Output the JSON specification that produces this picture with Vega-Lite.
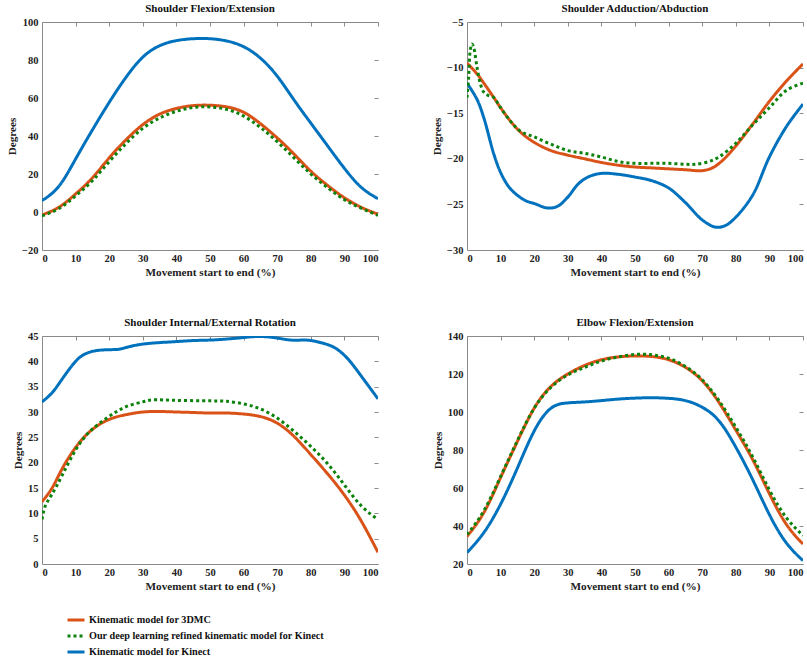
{
  "$schema": "https://vega.github.io/schema/vega-lite/v6.json",
  "background": "white",
  "padding": {"left": 6, "top": 3, "right": 0, "bottom": 0},
  "config": {
    "font": "Liberation Serif",
    "view": {"stroke": null},
    "axis": {
      "labelFont": "Liberation Serif", "labelFontSize": 10.5, "labelFontWeight": "bold", "labelColor": "#222",
      "titleFont": "Liberation Serif", "titleFontSize": 11.2, "titleFontWeight": "bold", "titleColor": "#222",
      "domainColor": "#8a8a8a", "tickColor": "#8a8a8a", "grid": false, "ticks": false,
      "labelPadding": 3, "titlePadding": 3
    },
    "axisY": {"labelPadding": 4, "titlePadding": 4},
    "title": {"font": "Liberation Serif", "fontSize": 11, "fontWeight": "bold", "color": "#111", "offset": 3},
    "legend": {
      "orient": "bottom", "direction": "vertical", "offset": -6, "padding": 24,
      "labelFont": "Liberation Serif", "labelFontSize": 10.2, "labelFontWeight": "bold", "labelColor": "#111", "labelLimit": 500,
      "symbolType": "stroke", "symbolSize": 289, "symbolStrokeWidth": 3, "rowPadding": 0, "labelOffset": 3
    }
  },
  "datasets": {
    "d": [
      {"p":1,"m":"Kinect","x":0,"y":6},{"p":1,"m":"Kinect","x":5,"y":13.5},{"p":1,"m":"Kinect","x":10,"y":27.9},{"p":1,"m":"Kinect","x":15,"y":43.2},{"p":1,"m":"Kinect","x":20,"y":57.7},{"p":1,"m":"Kinect","x":25,"y":70.9},{"p":1,"m":"Kinect","x":30,"y":81.5},{"p":1,"m":"Kinect","x":35,"y":87.5},{"p":1,"m":"Kinect","x":40,"y":90.2},{"p":1,"m":"Kinect","x":45,"y":91.2},{"p":1,"m":"Kinect","x":50,"y":91.2},{"p":1,"m":"Kinect","x":55,"y":90},{"p":1,"m":"Kinect","x":60,"y":87},{"p":1,"m":"Kinect","x":65,"y":81},{"p":1,"m":"Kinect","x":70,"y":71.5},{"p":1,"m":"Kinect","x":75,"y":59},{"p":1,"m":"Kinect","x":80,"y":46.8},{"p":1,"m":"Kinect","x":85,"y":34.8},{"p":1,"m":"Kinect","x":90,"y":23},{"p":1,"m":"Kinect","x":95,"y":13},{"p":1,"m":"Kinect","x":100,"y":7},
      {"p":1,"m":"3DMC","x":0,"y":-1.5},{"p":1,"m":"3DMC","x":5,"y":2.5},{"p":1,"m":"3DMC","x":10,"y":9.5},{"p":1,"m":"3DMC","x":15,"y":18},{"p":1,"m":"3DMC","x":20,"y":28.5},{"p":1,"m":"3DMC","x":25,"y":38},{"p":1,"m":"3DMC","x":30,"y":46},{"p":1,"m":"3DMC","x":35,"y":51.5},{"p":1,"m":"3DMC","x":40,"y":54.5},{"p":1,"m":"3DMC","x":45,"y":56},{"p":1,"m":"3DMC","x":50,"y":56.2},{"p":1,"m":"3DMC","x":55,"y":55.3},{"p":1,"m":"3DMC","x":60,"y":52.5},{"p":1,"m":"3DMC","x":65,"y":46.5},{"p":1,"m":"3DMC","x":70,"y":39},{"p":1,"m":"3DMC","x":75,"y":30.5},{"p":1,"m":"3DMC","x":80,"y":21.5},{"p":1,"m":"3DMC","x":85,"y":14},{"p":1,"m":"3DMC","x":90,"y":7.5},{"p":1,"m":"3DMC","x":95,"y":2.5},{"p":1,"m":"3DMC","x":100,"y":-1.2},
      {"p":1,"m":"Ours","x":0,"y":-2},{"p":1,"m":"Ours","x":5,"y":1.8},{"p":1,"m":"Ours","x":10,"y":8.5},{"p":1,"m":"Ours","x":15,"y":16.5},{"p":1,"m":"Ours","x":20,"y":26.5},{"p":1,"m":"Ours","x":25,"y":36},{"p":1,"m":"Ours","x":30,"y":44},{"p":1,"m":"Ours","x":35,"y":49.5},{"p":1,"m":"Ours","x":40,"y":53},{"p":1,"m":"Ours","x":45,"y":55},{"p":1,"m":"Ours","x":50,"y":55.3},{"p":1,"m":"Ours","x":55,"y":54},{"p":1,"m":"Ours","x":60,"y":50.5},{"p":1,"m":"Ours","x":65,"y":44.5},{"p":1,"m":"Ours","x":70,"y":37},{"p":1,"m":"Ours","x":75,"y":28.5},{"p":1,"m":"Ours","x":80,"y":20},{"p":1,"m":"Ours","x":85,"y":12.8},{"p":1,"m":"Ours","x":90,"y":6.5},{"p":1,"m":"Ours","x":95,"y":2},{"p":1,"m":"Ours","x":100,"y":-1.8},

      {"p":2,"m":"Kinect","x":0,"y":-11.7},{"p":2,"m":"Kinect","x":3,"y":-13.5},{"p":2,"m":"Kinect","x":5,"y":-15.5},{"p":2,"m":"Kinect","x":8,"y":-19.5},{"p":2,"m":"Kinect","x":10,"y":-21.5},{"p":2,"m":"Kinect","x":12.5,"y":-23.1},{"p":2,"m":"Kinect","x":15,"y":-24},{"p":2,"m":"Kinect","x":17.5,"y":-24.6},{"p":2,"m":"Kinect","x":20,"y":-24.9},{"p":2,"m":"Kinect","x":24,"y":-25.4},{"p":2,"m":"Kinect","x":27,"y":-25.2},{"p":2,"m":"Kinect","x":30,"y":-24.2},{"p":2,"m":"Kinect","x":33,"y":-22.8},{"p":2,"m":"Kinect","x":36,"y":-22},{"p":2,"m":"Kinect","x":40,"y":-21.6},{"p":2,"m":"Kinect","x":45,"y":-21.7},{"p":2,"m":"Kinect","x":50,"y":-22},{"p":2,"m":"Kinect","x":55,"y":-22.4},{"p":2,"m":"Kinect","x":60,"y":-23.2},{"p":2,"m":"Kinect","x":65,"y":-24.8},{"p":2,"m":"Kinect","x":70,"y":-26.7},{"p":2,"m":"Kinect","x":74,"y":-27.5},{"p":2,"m":"Kinect","x":77,"y":-27.3},{"p":2,"m":"Kinect","x":80,"y":-26.4},{"p":2,"m":"Kinect","x":85,"y":-24},{"p":2,"m":"Kinect","x":90,"y":-19.8},{"p":2,"m":"Kinect","x":95,"y":-16.5},{"p":2,"m":"Kinect","x":100,"y":-14},
      {"p":2,"m":"3DMC","x":0,"y":-9.5},{"p":2,"m":"3DMC","x":3,"y":-10.7},{"p":2,"m":"3DMC","x":5,"y":-11.7},{"p":2,"m":"3DMC","x":8,"y":-13.3},{"p":2,"m":"3DMC","x":10,"y":-14.4},{"p":2,"m":"3DMC","x":13,"y":-15.9},{"p":2,"m":"3DMC","x":16,"y":-17.1},{"p":2,"m":"3DMC","x":20,"y":-18.2},{"p":2,"m":"3DMC","x":25,"y":-19.1},{"p":2,"m":"3DMC","x":30,"y":-19.6},{"p":2,"m":"3DMC","x":35,"y":-20},{"p":2,"m":"3DMC","x":40,"y":-20.4},{"p":2,"m":"3DMC","x":45,"y":-20.7},{"p":2,"m":"3DMC","x":50,"y":-20.9},{"p":2,"m":"3DMC","x":55,"y":-21},{"p":2,"m":"3DMC","x":60,"y":-21.1},{"p":2,"m":"3DMC","x":65,"y":-21.2},{"p":2,"m":"3DMC","x":70,"y":-21.3},{"p":2,"m":"3DMC","x":73,"y":-21},{"p":2,"m":"3DMC","x":76,"y":-20.2},{"p":2,"m":"3DMC","x":80,"y":-18.6},{"p":2,"m":"3DMC","x":85,"y":-16.2},{"p":2,"m":"3DMC","x":90,"y":-13.7},{"p":2,"m":"3DMC","x":95,"y":-11.5},{"p":2,"m":"3DMC","x":100,"y":-9.6},
      {"p":2,"m":"Ours","x":0,"y":-13.3},{"p":2,"m":"Ours","x":0.5,"y":-11},{"p":2,"m":"Ours","x":1,"y":-8},{"p":2,"m":"Ours","x":1.5,"y":-7.4},{"p":2,"m":"Ours","x":2,"y":-7.8},{"p":2,"m":"Ours","x":3,"y":-10},{"p":2,"m":"Ours","x":4,"y":-11.8},{"p":2,"m":"Ours","x":5,"y":-12.7},{"p":2,"m":"Ours","x":6,"y":-13},{"p":2,"m":"Ours","x":8,"y":-13.3},{"p":2,"m":"Ours","x":10,"y":-14.4},{"p":2,"m":"Ours","x":13,"y":-15.9},{"p":2,"m":"Ours","x":16,"y":-17},{"p":2,"m":"Ours","x":20,"y":-17.6},{"p":2,"m":"Ours","x":25,"y":-18.4},{"p":2,"m":"Ours","x":30,"y":-19.1},{"p":2,"m":"Ours","x":35,"y":-19.4},{"p":2,"m":"Ours","x":40,"y":-19.8},{"p":2,"m":"Ours","x":45,"y":-20.3},{"p":2,"m":"Ours","x":50,"y":-20.5},{"p":2,"m":"Ours","x":55,"y":-20.5},{"p":2,"m":"Ours","x":60,"y":-20.5},{"p":2,"m":"Ours","x":65,"y":-20.6},{"p":2,"m":"Ours","x":68,"y":-20.6},{"p":2,"m":"Ours","x":72,"y":-20.3},{"p":2,"m":"Ours","x":75,"y":-19.8},{"p":2,"m":"Ours","x":80,"y":-18.3},{"p":2,"m":"Ours","x":85,"y":-16.3},{"p":2,"m":"Ours","x":90,"y":-14.4},{"p":2,"m":"Ours","x":95,"y":-12.5},{"p":2,"m":"Ours","x":100,"y":-11.7},

      {"p":3,"m":"Kinect","x":0,"y":32},{"p":3,"m":"Kinect","x":3,"y":33.8},{"p":3,"m":"Kinect","x":6,"y":36.5},{"p":3,"m":"Kinect","x":10,"y":40},{"p":3,"m":"Kinect","x":13,"y":41.5},{"p":3,"m":"Kinect","x":16,"y":42.1},{"p":3,"m":"Kinect","x":20,"y":42.3},{"p":3,"m":"Kinect","x":23,"y":42.4},{"p":3,"m":"Kinect","x":26,"y":42.9},{"p":3,"m":"Kinect","x":30,"y":43.4},{"p":3,"m":"Kinect","x":35,"y":43.7},{"p":3,"m":"Kinect","x":40,"y":43.9},{"p":3,"m":"Kinect","x":45,"y":44.1},{"p":3,"m":"Kinect","x":50,"y":44.2},{"p":3,"m":"Kinect","x":55,"y":44.4},{"p":3,"m":"Kinect","x":60,"y":44.7},{"p":3,"m":"Kinect","x":65,"y":44.9},{"p":3,"m":"Kinect","x":70,"y":44.6},{"p":3,"m":"Kinect","x":74,"y":44.2},{"p":3,"m":"Kinect","x":78,"y":44.2},{"p":3,"m":"Kinect","x":81,"y":44},{"p":3,"m":"Kinect","x":85,"y":43.3},{"p":3,"m":"Kinect","x":88,"y":42.3},{"p":3,"m":"Kinect","x":91,"y":40.5},{"p":3,"m":"Kinect","x":94,"y":38},{"p":3,"m":"Kinect","x":97,"y":35.3},{"p":3,"m":"Kinect","x":100,"y":32.6},
      {"p":3,"m":"3DMC","x":0,"y":12.3},{"p":3,"m":"3DMC","x":3,"y":15},{"p":3,"m":"3DMC","x":6,"y":18.8},{"p":3,"m":"3DMC","x":10,"y":23},{"p":3,"m":"3DMC","x":14,"y":26},{"p":3,"m":"3DMC","x":18,"y":27.9},{"p":3,"m":"3DMC","x":22,"y":29},{"p":3,"m":"3DMC","x":26,"y":29.6},{"p":3,"m":"3DMC","x":30,"y":30},{"p":3,"m":"3DMC","x":35,"y":30.1},{"p":3,"m":"3DMC","x":40,"y":30},{"p":3,"m":"3DMC","x":45,"y":29.9},{"p":3,"m":"3DMC","x":50,"y":29.8},{"p":3,"m":"3DMC","x":55,"y":29.8},{"p":3,"m":"3DMC","x":60,"y":29.6},{"p":3,"m":"3DMC","x":65,"y":29.1},{"p":3,"m":"3DMC","x":70,"y":27.8},{"p":3,"m":"3DMC","x":75,"y":25.2},{"p":3,"m":"3DMC","x":80,"y":21.6},{"p":3,"m":"3DMC","x":85,"y":17.8},{"p":3,"m":"3DMC","x":90,"y":13.6},{"p":3,"m":"3DMC","x":95,"y":8.5},{"p":3,"m":"3DMC","x":100,"y":2.3},
      {"p":3,"m":"Ours","x":0,"y":8.8},{"p":3,"m":"Ours","x":1,"y":11.5},{"p":3,"m":"Ours","x":3,"y":13.8},{"p":3,"m":"Ours","x":6,"y":17.5},{"p":3,"m":"Ours","x":10,"y":22.5},{"p":3,"m":"Ours","x":14,"y":26},{"p":3,"m":"Ours","x":18,"y":28.2},{"p":3,"m":"Ours","x":22,"y":30},{"p":3,"m":"Ours","x":26,"y":31.3},{"p":3,"m":"Ours","x":30,"y":32},{"p":3,"m":"Ours","x":33,"y":32.4},{"p":3,"m":"Ours","x":40,"y":32.3},{"p":3,"m":"Ours","x":50,"y":32.2},{"p":3,"m":"Ours","x":55,"y":32.1},{"p":3,"m":"Ours","x":60,"y":31.6},{"p":3,"m":"Ours","x":65,"y":30.6},{"p":3,"m":"Ours","x":70,"y":28.8},{"p":3,"m":"Ours","x":75,"y":26.2},{"p":3,"m":"Ours","x":80,"y":23.2},{"p":3,"m":"Ours","x":85,"y":19.8},{"p":3,"m":"Ours","x":90,"y":15.6},{"p":3,"m":"Ours","x":95,"y":11.5},{"p":3,"m":"Ours","x":100,"y":8.8},

      {"p":4,"m":"Kinect","x":0,"y":26},{"p":4,"m":"Kinect","x":5,"y":36.5},{"p":4,"m":"Kinect","x":10,"y":51.5},{"p":4,"m":"Kinect","x":15,"y":70.5},{"p":4,"m":"Kinect","x":20,"y":90},{"p":4,"m":"Kinect","x":25,"y":102},{"p":4,"m":"Kinect","x":30,"y":104.8},{"p":4,"m":"Kinect","x":35,"y":105.3},{"p":4,"m":"Kinect","x":40,"y":106},{"p":4,"m":"Kinect","x":45,"y":106.8},{"p":4,"m":"Kinect","x":50,"y":107.3},{"p":4,"m":"Kinect","x":55,"y":107.5},{"p":4,"m":"Kinect","x":60,"y":107.2},{"p":4,"m":"Kinect","x":65,"y":106},{"p":4,"m":"Kinect","x":70,"y":102.5},{"p":4,"m":"Kinect","x":75,"y":95.3},{"p":4,"m":"Kinect","x":80,"y":81.5},{"p":4,"m":"Kinect","x":85,"y":64.5},{"p":4,"m":"Kinect","x":90,"y":46},{"p":4,"m":"Kinect","x":95,"y":31.2},{"p":4,"m":"Kinect","x":100,"y":21.8},
      {"p":4,"m":"3DMC","x":0,"y":34.5},{"p":4,"m":"3DMC","x":5,"y":47},{"p":4,"m":"3DMC","x":10,"y":65.5},{"p":4,"m":"3DMC","x":15,"y":84.5},{"p":4,"m":"3DMC","x":20,"y":102},{"p":4,"m":"3DMC","x":25,"y":113.5},{"p":4,"m":"3DMC","x":30,"y":120},{"p":4,"m":"3DMC","x":35,"y":124.5},{"p":4,"m":"3DMC","x":40,"y":127.5},{"p":4,"m":"3DMC","x":45,"y":129},{"p":4,"m":"3DMC","x":50,"y":129.5},{"p":4,"m":"3DMC","x":55,"y":129.2},{"p":4,"m":"3DMC","x":60,"y":127.5},{"p":4,"m":"3DMC","x":65,"y":123.5},{"p":4,"m":"3DMC","x":70,"y":116.5},{"p":4,"m":"3DMC","x":75,"y":105},{"p":4,"m":"3DMC","x":80,"y":90.5},{"p":4,"m":"3DMC","x":85,"y":75},{"p":4,"m":"3DMC","x":90,"y":57},{"p":4,"m":"3DMC","x":95,"y":41},{"p":4,"m":"3DMC","x":100,"y":30.5},
      {"p":4,"m":"Ours","x":0,"y":35.5},{"p":4,"m":"Ours","x":5,"y":48},{"p":4,"m":"Ours","x":10,"y":66},{"p":4,"m":"Ours","x":15,"y":85},{"p":4,"m":"Ours","x":20,"y":102},{"p":4,"m":"Ours","x":25,"y":113},{"p":4,"m":"Ours","x":30,"y":119.5},{"p":4,"m":"Ours","x":35,"y":123.5},{"p":4,"m":"Ours","x":40,"y":126.8},{"p":4,"m":"Ours","x":45,"y":129},{"p":4,"m":"Ours","x":50,"y":130.3},{"p":4,"m":"Ours","x":55,"y":130.1},{"p":4,"m":"Ours","x":60,"y":128.3},{"p":4,"m":"Ours","x":65,"y":124},{"p":4,"m":"Ours","x":70,"y":117},{"p":4,"m":"Ours","x":75,"y":106},{"p":4,"m":"Ours","x":80,"y":92},{"p":4,"m":"Ours","x":85,"y":76.5},{"p":4,"m":"Ours","x":90,"y":59},{"p":4,"m":"Ours","x":95,"y":44.5},{"p":4,"m":"Ours","x":100,"y":35}
    ]
  },
  "columns": 2,
  "spacing": {"column": 50, "row": 39},
  "concat": [
    {
      "title": "Shoulder Flexion/Extension",
      "width": 336, "height": 228,
      "data": {"name": "d"},
      "transform": [{"filter": "datum.p == 1"}],
      "layer": [
        {
          "mark": {"type": "line", "interpolate": "natural", "strokeWidth": 3, "clip": true},
          "encoding": {
            "x": {"field": "x", "type": "quantitative", "scale": {"domain": [0, 100], "nice": false}, "axis": {"values": [0,10,20,30,40,50,60,70,80,90,100], "title": "Movement start to end (%)"}},
            "y": {"field": "y", "type": "quantitative", "scale": {"domain": [-20, 100], "nice": false, "zero": false}, "axis": {"values": [-20,0,20,40,60,80,100], "title": "Degrees"}},
            "color": {"field": "m", "type": "nominal", "scale": {"domain": ["3DMC", "Ours", "Kinect"], "range": ["#D95319", "#0B820B", "#0072BD"]}, "legend": {"title": null, "labelExpr": "datum.label == '3DMC' ? 'Kinematic model for 3DMC' : datum.label == 'Ours' ? 'Our deep learning refined kinematic model for Kinect' : 'Kinematic model for Kinect'"}},
            "strokeDash": {"field": "m", "type": "nominal", "scale": {"domain": ["3DMC", "Ours", "Kinect"], "range": [[1, 0], [3, 3], [1, 0]]}, "legend": {"title": null, "labelExpr": "datum.label == '3DMC' ? 'Kinematic model for 3DMC' : datum.label == 'Ours' ? 'Our deep learning refined kinematic model for Kinect' : 'Kinematic model for Kinect'"}}
          }
        },
        {
          "mark": {"type": "point", "opacity": 0},
          "encoding": {
            "x": {"field": "x", "type": "quantitative", "axis": {"orient": "top", "labels": false, "title": null, "ticks": true, "tickSize": -4, "values": [0,10,20,30,40,50,60,70,80,90,100]}},
            "y": {"field": "y", "type": "quantitative", "axis": {"orient": "right", "labels": false, "title": null, "domain": false, "ticks": true, "tickSize": -4, "values": [-20,0,20,40,60,80,100]}}
          }
        }
      ],
      "resolve": {"axis": {"x": "independent", "y": "independent"}}
    },
    {
      "title": "Shoulder Adduction/Abduction",
      "width": 336, "height": 228,
      "data": {"name": "d"},
      "transform": [{"filter": "datum.p == 2"}],
      "layer": [
        {
          "mark": {"type": "line", "interpolate": "catmull-rom", "strokeWidth": 3, "clip": true},
          "encoding": {
            "x": {"field": "x", "type": "quantitative", "scale": {"domain": [0, 100], "nice": false}, "axis": {"values": [0,10,20,30,40,50,60,70,80,90,100], "title": "Movement start to end (%)"}},
            "y": {"field": "y", "type": "quantitative", "scale": {"domain": [-30, -5], "nice": false, "zero": false}, "axis": {"values": [-30,-25,-20,-15,-10,-5], "title": "Degrees"}},
            "color": {"field": "m", "type": "nominal", "scale": {"domain": ["3DMC", "Ours", "Kinect"], "range": ["#D95319", "#0B820B", "#0072BD"]}, "legend": {"title": null, "labelExpr": "datum.label == '3DMC' ? 'Kinematic model for 3DMC' : datum.label == 'Ours' ? 'Our deep learning refined kinematic model for Kinect' : 'Kinematic model for Kinect'"}},
            "strokeDash": {"field": "m", "type": "nominal", "scale": {"domain": ["3DMC", "Ours", "Kinect"], "range": [[1, 0], [3, 3], [1, 0]]}, "legend": {"title": null, "labelExpr": "datum.label == '3DMC' ? 'Kinematic model for 3DMC' : datum.label == 'Ours' ? 'Our deep learning refined kinematic model for Kinect' : 'Kinematic model for Kinect'"}}
          }
        },
        {
          "mark": {"type": "point", "opacity": 0},
          "encoding": {
            "x": {"field": "x", "type": "quantitative", "axis": {"orient": "top", "labels": false, "title": null, "ticks": true, "tickSize": -4, "values": [0,10,20,30,40,50,60,70,80,90,100]}},
            "y": {"field": "y", "type": "quantitative", "axis": {"orient": "right", "labels": false, "title": null, "domain": false, "ticks": true, "tickSize": -4, "values": [-30,-25,-20,-15,-10,-5]}}
          }
        }
      ],
      "resolve": {"axis": {"x": "independent", "y": "independent"}}
    },
    {
      "title": "Shoulder Internal/External Rotation",
      "width": 336, "height": 228,
      "data": {"name": "d"},
      "transform": [{"filter": "datum.p == 3"}],
      "layer": [
        {
          "mark": {"type": "line", "interpolate": "natural", "strokeWidth": 3, "clip": true},
          "encoding": {
            "x": {"field": "x", "type": "quantitative", "scale": {"domain": [0, 100], "nice": false}, "axis": {"values": [0,10,20,30,40,50,60,70,80,90,100], "title": "Movement start to end (%)"}},
            "y": {"field": "y", "type": "quantitative", "scale": {"domain": [0, 45], "nice": false}, "axis": {"values": [0,5,10,15,20,25,30,35,40,45], "title": "Degrees"}},
            "color": {"field": "m", "type": "nominal", "scale": {"domain": ["3DMC", "Ours", "Kinect"], "range": ["#D95319", "#0B820B", "#0072BD"]}, "legend": {"title": null, "labelExpr": "datum.label == '3DMC' ? 'Kinematic model for 3DMC' : datum.label == 'Ours' ? 'Our deep learning refined kinematic model for Kinect' : 'Kinematic model for Kinect'"}},
            "strokeDash": {"field": "m", "type": "nominal", "scale": {"domain": ["3DMC", "Ours", "Kinect"], "range": [[1, 0], [3, 3], [1, 0]]}, "legend": {"title": null, "labelExpr": "datum.label == '3DMC' ? 'Kinematic model for 3DMC' : datum.label == 'Ours' ? 'Our deep learning refined kinematic model for Kinect' : 'Kinematic model for Kinect'"}}
          }
        },
        {
          "mark": {"type": "point", "opacity": 0},
          "encoding": {
            "x": {"field": "x", "type": "quantitative", "axis": {"orient": "top", "labels": false, "title": null, "ticks": true, "tickSize": -4, "values": [0,10,20,30,40,50,60,70,80,90,100]}},
            "y": {"field": "y", "type": "quantitative", "axis": {"orient": "right", "labels": false, "title": null, "domain": false, "ticks": true, "tickSize": -4, "values": [0,5,10,15,20,25,30,35,40,45]}}
          }
        }
      ],
      "resolve": {"axis": {"x": "independent", "y": "independent"}}
    },
    {
      "title": "Elbow Flexion/Extension",
      "width": 336, "height": 228,
      "data": {"name": "d"},
      "transform": [{"filter": "datum.p == 4"}],
      "layer": [
        {
          "mark": {"type": "line", "interpolate": "natural", "strokeWidth": 3, "clip": true},
          "encoding": {
            "x": {"field": "x", "type": "quantitative", "scale": {"domain": [0, 100], "nice": false}, "axis": {"values": [0,10,20,30,40,50,60,70,80,90,100], "title": "Movement start to end (%)"}},
            "y": {"field": "y", "type": "quantitative", "scale": {"domain": [20, 140], "nice": false, "zero": false}, "axis": {"values": [20,40,60,80,100,120,140], "title": "Degrees"}},
            "color": {"field": "m", "type": "nominal", "scale": {"domain": ["3DMC", "Ours", "Kinect"], "range": ["#D95319", "#0B820B", "#0072BD"]}, "legend": {"title": null, "labelExpr": "datum.label == '3DMC' ? 'Kinematic model for 3DMC' : datum.label == 'Ours' ? 'Our deep learning refined kinematic model for Kinect' : 'Kinematic model for Kinect'"}},
            "strokeDash": {"field": "m", "type": "nominal", "scale": {"domain": ["3DMC", "Ours", "Kinect"], "range": [[1, 0], [3, 3], [1, 0]]}, "legend": {"title": null, "labelExpr": "datum.label == '3DMC' ? 'Kinematic model for 3DMC' : datum.label == 'Ours' ? 'Our deep learning refined kinematic model for Kinect' : 'Kinematic model for Kinect'"}}
          }
        },
        {
          "mark": {"type": "point", "opacity": 0},
          "encoding": {
            "x": {"field": "x", "type": "quantitative", "axis": {"orient": "top", "labels": false, "title": null, "ticks": true, "tickSize": -4, "values": [0,10,20,30,40,50,60,70,80,90,100]}},
            "y": {"field": "y", "type": "quantitative", "axis": {"orient": "right", "labels": false, "title": null, "domain": false, "ticks": true, "tickSize": -4, "values": [20,40,60,80,100,120,140]}}
          }
        }
      ],
      "resolve": {"axis": {"x": "independent", "y": "independent"}}
    }
  ]
}
